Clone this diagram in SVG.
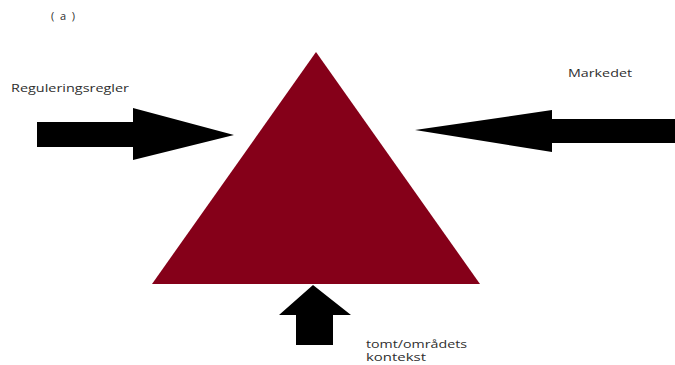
<svg xmlns="http://www.w3.org/2000/svg" width="675" height="365" viewBox="0 0 675 365">
<style>
text{font-family:"Open Sans","Liberation Sans",sans-serif;font-size:11px;fill:#2e2e2e}
.arrow{fill:#000}
</style>
<rect width="675" height="365" fill="#fff"/>
<text x="51" y="20" textLength="24" lengthAdjust="spacing">( a )</text>
<g id="triangle"><polygon points="316,52 152,284 480,284" fill="#850019"/></g>
<g id="connectors">
<g id="arrow-left"><polygon class="arrow" points="37,122 133,122 133,108 234,135 133,160 133,147 37,147"/></g>
<g id="arrow-right"><polygon class="arrow" points="675,119 552,119 552,110 415,130 552,152 552,143 675,143"/></g>
<g id="arrow-bottom"><polygon class="arrow" points="313,285 351,315 333,315 333,345 296,345 296,315 279,315"/></g>
</g>
<g id="label-left"><text x="11" y="92" textLength="118" lengthAdjust="spacingAndGlyphs">Reguleringsregler</text></g>
<g id="label-right"><text x="568" y="77" textLength="64" lengthAdjust="spacingAndGlyphs">Markedet</text></g>
<g id="label-bottom"><text x="366" y="348" font-size="10.5" textLength="101" lengthAdjust="spacingAndGlyphs">tomt/områdets</text><text x="366" y="361" font-size="10.5" textLength="60" lengthAdjust="spacingAndGlyphs">kontekst</text></g>
</svg>
